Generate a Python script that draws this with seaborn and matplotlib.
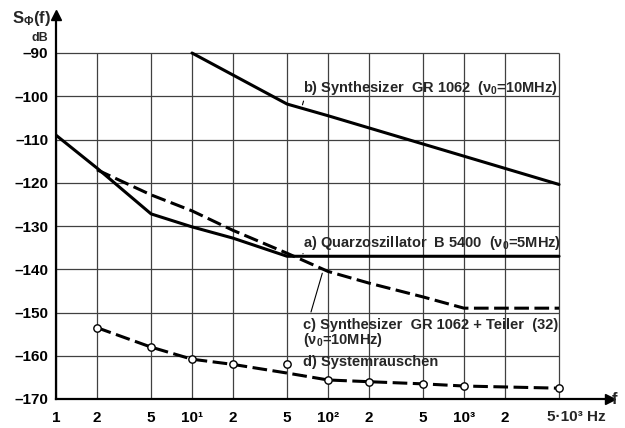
import numpy as np
import pandas as pd
import matplotlib
matplotlib.use("Agg")
import matplotlib.pyplot as plt
import seaborn as sns

# Frequency grid (Hz) and tick labels
x_ticks = [1, 2, 5, 10, 20, 50, 100, 200, 500, 1000, 2000, 5000]
x_tick_labels = ["1", "2", "5", "10¹", "2", "5", "10²", "2", "5", "10³", "2", ""]
y_ticks = [-170, -160, -150, -140, -130, -120, -110, -100, -90]
y_tick_labels = ["–170", "–160", "–150", "–140", "–130", "–120", "–110", "–100", "–90"]

# a) Quarzoszillator B 5400
a_f = [1, 2, 5, 10, 20, 50, 5000]
a_s = [-109, -116.6, -127.2, -130.2, -132.8, -137, -137]

# b) Synthesizer GR 1062
b_f = [10, 50, 100, 5000]
b_s = [-90, -101.8, -104.5, -120.4]

# c) Synthesizer GR 1062 + Teiler (32)
c_f = [2, 5, 10, 20, 50, 100, 200, 500, 1000, 5000]
c_s = [-117, -122.8, -126.5, -131, -136.3, -140.5, -143.2, -146.4, -149, -149]

# d) Systemrauschen: curve and measured points
d_f = [2, 5, 10, 20, 50, 100, 200, 500, 1000, 5000]
d_s = [-153.5, -158, -160.8, -162, -164, -165.6, -166, -166.5, -167, -167.5]
d_pt_f = [2, 5, 10, 20, 50, 100, 200, 500, 1000, 5000]
d_pt_s = [-153.5, -158, -160.8, -162, -162, -165.6, -166, -166.5, -167, -167.5]

sns.set_style("white")
plt.rcParams["font.family"] = ["Liberation Sans", "DejaVu Sans"]
plt.rcParams["font.weight"] = "bold"
plt.rcParams["mathtext.fontset"] = "custom"
plt.rcParams["mathtext.rm"] = "Liberation Sans:bold"
plt.rcParams["mathtext.it"] = "Liberation Sans:bold"
plt.rcParams["mathtext.bf"] = "Liberation Sans:bold"

W, H = 625, 428
fig = plt.figure(figsize=(W / 100, H / 100), dpi=100)
ax = fig.add_axes([56 / W, 1 - 399 / H, (610 - 56) / W, (399 - 15) / H])

ax.set_xscale("log")
ax.set_xlim(1, 10 ** ((610 - 56) / 136))
ax.set_ylim(-170, -90 + (53 - 15) / 4.325)

# grid box
ax.vlines(x_ticks, -170, -90, color="0.25", lw=0.9, zorder=1)
ax.hlines(y_ticks, 1, 5000, color="0.25", lw=0.9, zorder=1)

lw = 2.2
dash = (4.8, 1.8)
sns.lineplot(data=pd.DataFrame({"f": a_f, "S": a_s}), x="f", y="S", ax=ax,
             color="black", lw=lw, zorder=3)
sns.lineplot(data=pd.DataFrame({"f": b_f, "S": b_s}), x="f", y="S", ax=ax,
             color="black", lw=lw, zorder=3)
sns.lineplot(data=pd.DataFrame({"f": c_f, "S": c_s}), x="f", y="S", ax=ax,
             color="black", lw=lw, dashes=dash, zorder=3)
sns.lineplot(data=pd.DataFrame({"f": d_f, "S": d_s}), x="f", y="S", ax=ax,
             color="black", lw=lw, dashes=dash, zorder=3)
sns.scatterplot(data=pd.DataFrame({"f": d_pt_f, "S": d_pt_s}), x="f", y="S", ax=ax,
                marker="o", s=28, facecolor="white", edgecolor="black",
                linewidth=1.0, zorder=4)

# axes styling
for side in ["top", "right"]:
    ax.spines[side].set_visible(False)
for side in ["left", "bottom"]:
    ax.spines[side].set_linewidth(1.6)
    ax.spines[side].set_color("black")
ax.plot(1, 0, ">", color="black", ms=7, transform=ax.transAxes, clip_on=False, zorder=5)
ax.plot(0, 1, "^", color="black", ms=7, transform=ax.transAxes, clip_on=False, zorder=5)

ax.set_xticks(x_ticks)
ax.set_xticklabels(x_tick_labels, fontsize=11, fontweight="bold")
ax.xaxis.set_minor_locator(matplotlib.ticker.NullLocator())
ax.set_yticks(y_ticks)
ax.set_yticklabels(y_tick_labels, fontsize=11, fontweight="bold")
ax.tick_params(axis="x", direction="out", length=4.5, width=1.2, pad=4, colors="black")
ax.tick_params(axis="y", direction="out", length=4.5, width=1.2, pad=1, colors="black")
ax.set_xlabel("")
ax.set_ylabel("")

ax.annotate("5·10³ Hz", xy=(5000, 0), xycoords=("data", "axes fraction"),
            xytext=(-8.6, -7.6), textcoords="offset points",
            ha="left", va="top", fontsize=11, fontweight="bold")

fig.text(12 / W, 1 - 18 / H, r"S$_{\Phi}$(f)", fontsize=12, fontweight="bold",
         ha="left", va="center")
fig.text(32 / W, 1 - 38 / H, "dB", fontsize=9, fontweight="bold", ha="left", va="center")
fig.text(612 / W, 1 - 399 / H, "f", fontsize=12, fontweight="bold", ha="left", va="center")

# curve labels with leader lines
lbl_x = 65
tk = dict(fontsize=10.5, fontweight="bold", ha="left", va="center", zorder=6)
ax.text(lbl_x, -98.0, r"b) Synthesizer  GR 1062  ($\nu_0$=10MHz)", **tk)
ax.text(lbl_x, -133.9, r"a) Quarzoszillator  B 5400  ($\nu_0$=5MHz)", **tk)
ax.text(lbl_x, -152.9, "c) Synthesizer  GR 1062 + Teiler  (32)", **tk)
ax.text(lbl_x, -156.4, r"($\nu_0$=10MHz)", **tk)
ax.text(lbl_x, -161.4, "d) Systemrauschen", **tk)

lead = dict(arrowstyle="-", lw=0.8, color="black")
ax.annotate("", xy=(64, -102.6), xytext=(67, -100.5), arrowprops=lead)
ax.annotate("", xy=(64, -137.0), xytext=(67, -135.8), arrowprops=lead)
ax.annotate("", xy=(92, -140.3), xytext=(74, -150.5), arrowprops=lead)
ax.annotate("", xy=(64, -164.6), xytext=(66, -163.8), arrowprops=lead)

fig.savefig("out.png", dpi=100, facecolor="white")
